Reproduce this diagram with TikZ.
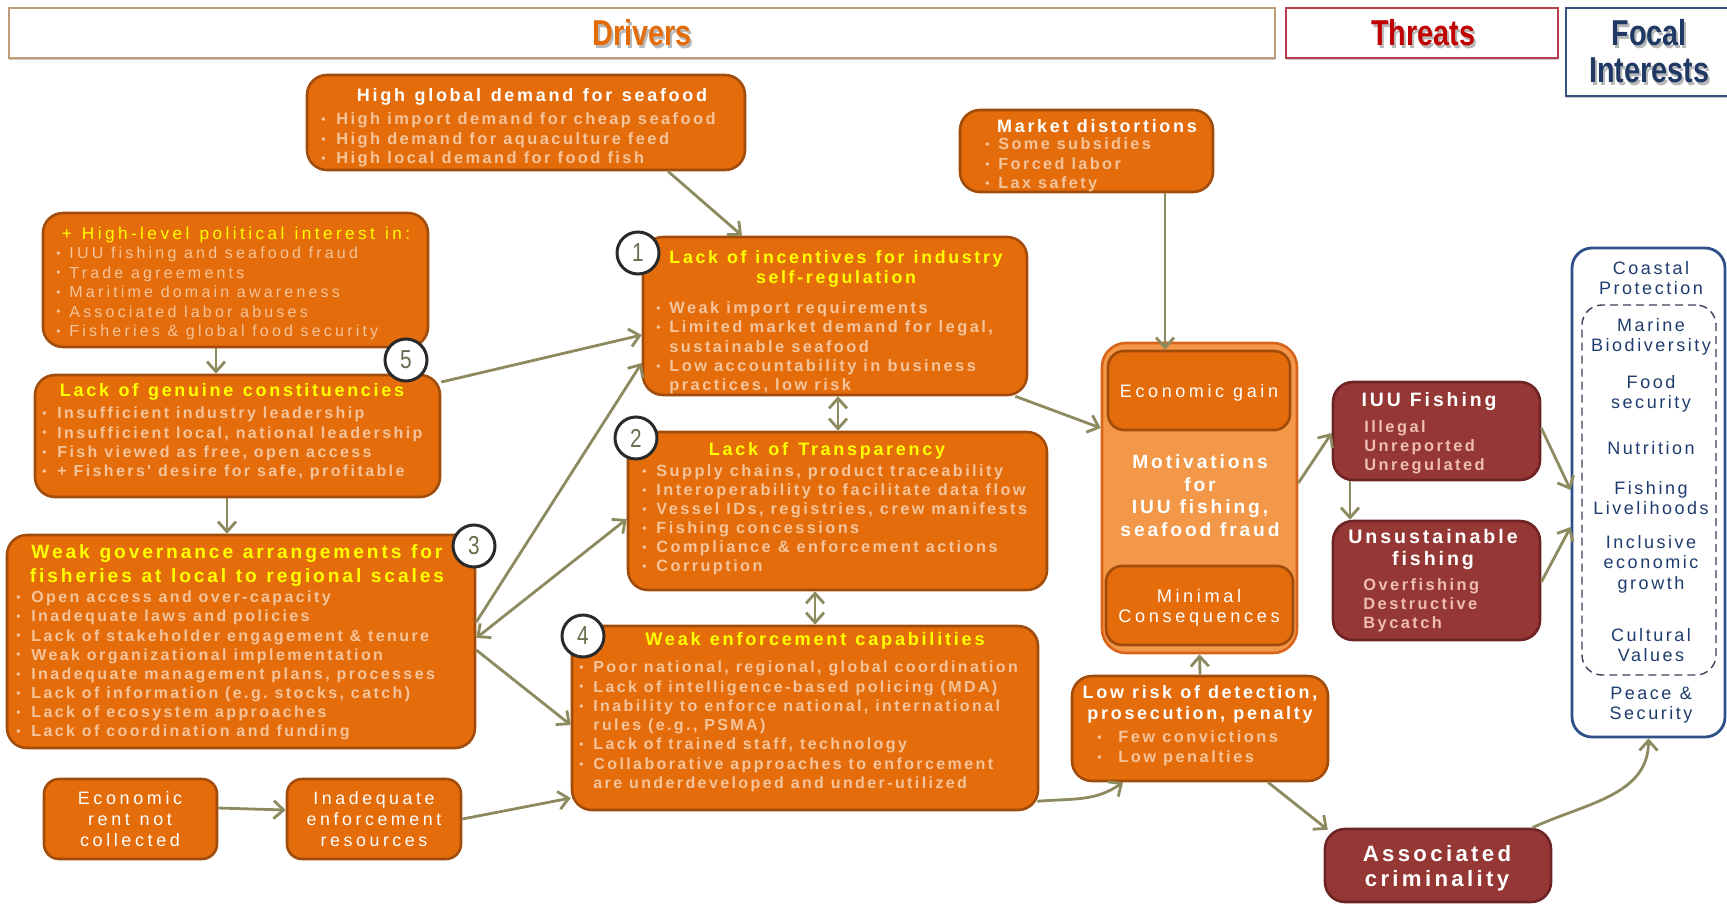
\documentclass[tikz,border=0pt]{standalone}
\usepackage{fontspec}
\usepackage{graphicx}
\setmainfont{Liberation Sans}
\usetikzlibrary{arrows.meta,shadows}
\newfontfamily\fR[LetterSpace=20]{Liberation Sans}
\newfontfamily\fB[LetterSpace=15]{Liberation Sans}
\newfontfamily\fF[LetterSpace=14]{Liberation Sans}
\newfontfamily\fH[FakeStretch=0.8]{Liberation Sans}
\newcommand\fsz[2]{\fontsize{#1}{#2}\selectfont}
\newcommand\wB{\spaceskip=0.43em plus 0.05em\xspaceskip=0.43em plus 0.05em\relax}
\newcommand\wR{\spaceskip=0.48em plus 0.05em\xspaceskip=0.48em plus 0.05em\relax}
\newcommand\wF{\spaceskip=0.42em plus 0.05em\xspaceskip=0.42em plus 0.05em\relax}
\newcommand\bul[1][7pt]{\makebox[#1][l]{\raisebox{0.6pt}{\fontsize{6}{6}\selectfont\textbullet}}}
\newcommand\nob[1][7pt]{\makebox[#1][l]{}}
\newcommand\shd[1]{\makebox[0pt][l]{\hspace{1.1pt}\raisebox{-1.1pt}{\textcolor{black!28}{#1}}}#1}
\definecolor{ofill}{HTML}{E46C0A}
\definecolor{obd}{HTML}{A24C0C}
\definecolor{yel}{HTML}{FFFF00}
\definecolor{peach}{HTML}{F4C49C}
\definecolor{rfill}{HTML}{953735}
\definecolor{rbd}{HTML}{6E2424}
\definecolor{pink}{HTML}{EFBDB3}
\definecolor{mfill}{HTML}{F29848}
\definecolor{mbd}{HTML}{D8641A}
\definecolor{arrc}{HTML}{8C8A5E}
\definecolor{fob}{HTML}{2E5089}
\definecolor{fodash}{HTML}{3A3F5C}
\definecolor{fotx}{HTML}{1F3C6E}
\definecolor{numtx}{HTML}{6B6B4E}
\definecolor{circbd}{HTML}{2A2A2A}
\definecolor{drv}{HTML}{E46C0A}
\definecolor{thr}{HTML}{C00000}
\definecolor{foc}{HTML}{1F3864}
\definecolor{drvbd}{HTML}{C39A78}
\definecolor{thrbd}{HTML}{B7404F}
\definecolor{focbd}{HTML}{33507F}
\newcommand\mkbox[6]{%
  \pgfmathsetmacro\mkW{(#5-#3)/2}\pgfmathsetmacro\mkH{(#6-#4)/2}%
  \pgfmathsetmacro\mkX{(#3+#5)/2}\pgfmathsetmacro\mkY{(#4+#6)/2}%
  \node[#1,minimum width=\mkW pt,minimum height=\mkH pt] (#2) at (\mkX,\mkY) {};}
\begin{document}
\begin{tikzpicture}[x=0.5pt,y=-0.5pt,
  obox/.style={draw=obd,fill=ofill,line width=1.3pt,rounded corners=10pt,inner sep=0pt},
  sbox/.style={obox,rounded corners=7.5pt},
  rbox/.style={draw=rbd,fill=rfill,line width=1.3pt,rounded corners=10pt,inner sep=0pt},
  mbox/.style={draw=mbd,fill=mfill,line width=1.3pt,rounded corners=12pt,inner sep=0pt},
  ibox/.style={draw=obd,fill=ofill,line width=1.3pt,rounded corners=8pt,inner sep=0pt},
  hdrbox/.style={draw=#1,line width=0.8pt,fill=white,inner sep=0pt,drop shadow={shadow xshift=0pt,shadow yshift=-1pt,fill=black!22,opacity=1}},
  focbox/.style={draw=fob,line width=1.4pt,fill=white,rounded corners=10pt,inner sep=0pt},
  dashbox/.style={draw=fodash,line width=0.7pt,dash pattern=on 4pt off 2.5pt,rounded corners=10pt,inner sep=0pt},
  txl/.style={inner sep=0pt,text width=#1,align=left,anchor=base west},
  txc/.style={inner sep=0pt,text width=#1,align=center,anchor=base},
  numcirc/.style={circle,draw=circbd,line width=1.5pt,fill=white,minimum size=21pt,inner sep=0pt,font=\fH\fsz{13}{13},text=numtx},
  arr/.style={draw=arrc,line width=1.4pt,-{Straight Barb[length=5pt,width=9pt]}},
  arrb/.style={draw=arrc,line width=1.4pt,{Straight Barb[length=5pt,width=9pt]}-{Straight Barb[length=5pt,width=9pt]}}
]
\useasboundingbox (0,0) rectangle (1727,904);
% headers
\mkbox{hdrbox=drvbd}{hd}{9}{8}{1275}{58}
\mkbox{hdrbox=thrbd}{ht}{1286}{8}{1558}{58}
\mkbox{hdrbox=focbd}{hf}{1566}{8}{1745}{96}
\node[anchor=base,inner sep=0pt,font=\fH\bfseries\fsz{18}{18.5},text=drv] (hd-t) at (642,46) {\shd{Drivers}};
\node[anchor=base,inner sep=0pt,font=\fH\bfseries\fsz{18}{18.5},text=thr] (ht-t) at (1423,46) {\shd{Threats}};
\node[txc=90pt,font=\fH\bfseries\fsz{18}{18.5},text=foc] (hf-t) at (1649,46) {\shd{Focal}\\\shd{Interests}};
% boxes
\mkbox{obox}{gd}{307}{75}{745}{170}
\mkbox{obox}{hl}{43}{213}{428}{347}
\mkbox{obox}{lg}{35}{375}{440}{497}
\mkbox{obox}{wg}{7}{535}{475}{748}
\mkbox{sbox}{ec}{44}{779}{217}{859}
\mkbox{sbox}{ie}{287}{779}{461}{859}
\mkbox{obox}{b1}{643}{237}{1027}{395}
\mkbox{obox}{b2}{628}{432}{1047}{590}
\mkbox{obox}{b4}{572}{626}{1038}{810}
\mkbox{obox}{md}{960}{110}{1213}{192}
\mkbox{mbox}{mot}{1102}{343}{1297}{653}
\mkbox{ibox}{eg}{1108}{351}{1290}{430}
\mkbox{ibox}{mc}{1106}{566}{1293}{645}
\mkbox{obox}{lr}{1072}{676}{1328}{781}
\mkbox{rbox}{ac}{1325}{829}{1551}{902}
\mkbox{rbox}{iuu}{1333}{382}{1540}{480}
\mkbox{rbox}{us}{1333}{521}{1540}{640}
\mkbox{focbox}{fo}{1572}{248}{1725}{737}
\mkbox{dashbox}{fo2}{1582}{305}{1716}{675}
% texts: high global demand
\node[txc=250pt,font=\fB\bfseries\fsz{9}{10},text=white] (gd-t) at (532,101.3) {\wB High global demand for seafood};
\node[txl=215pt,font=\fB\bfseries\fsz{8.2}{9.75},text=peach] (gd-b) at (321,124.7) {\wB\bul[7.5pt]High import demand for cheap seafood\\ \bul[7.5pt]High demand for aquaculture feed\\ \bul[7.5pt]High local demand for food fish};
% political interest
\node[txc=250pt,font=\fR\fsz{8.6}{10},text=yel] (hl-t) at (236,239.5) {\wR + High-level political interest in:};
\node[txl=200pt,font=\fR\fsz{8}{9.75},text=peach] (hl-b) at (56,258.5) {\wR\bul[6.5pt]IUU fishing and seafood fraud\\ \bul[6.5pt]Trade agreements\\ \bul[6.5pt]Maritime domain awareness\\ \bul[6.5pt]Associated labor abuses\\ \bul[6.5pt]Fisheries \& global food security};
% constituencies
\node[txc=250pt,font=\fB\bfseries\fsz{9}{10},text=yel] (lg-t) at (232,396.3) {\wB Lack of genuine constituencies};
\node[txl=205pt,font=\fB\bfseries\fsz{8}{9.65},text=peach] (lg-b) at (42,418.7) {\wB\bul[7.5pt]Insufficient industry leadership\\ \bul[7.5pt]Insufficient local, national leadership\\ \bul[7.5pt]Fish viewed as free, open access\\ \bul[7.5pt]+ Fishers' desire for safe, profitable};
% governance
\node[txc=260pt,font=\fB\bfseries\fsz{9.6}{12},text=yel] (wg-t) at (237,558.9) {\wB Weak governance arrangements for\\fisheries at local to regional scales};
\node[txl=225pt,font=\fB\bfseries\fsz{8}{9.55},text=peach] (wg-b) at (16,602.8) {\wB\bul[7.5pt]Open access and over-capacity\\ \bul[7.5pt]Inadequate laws and policies\\ \bul[7.5pt]Lack of stakeholder engagement \& tenure\\ \bul[7.5pt]Weak organizational implementation\\ \bul[7.5pt]Inadequate management plans, processes\\ \bul[7.5pt]Lack of information (e.g. stocks, catch)\\ \bul[7.5pt]Lack of ecosystem approaches\\ \bul[7.5pt]Lack of coordination and funding};
% small boxes
\node[txc=90pt,font=\fR\fsz{9}{10.5},text=white] (ec-t) at (130,804.4) {\wR Economic\\rent not\\collected};
\node[txc=90pt,font=\fR\fsz{8.9}{10.5},text=white] (ie-t) at (374,804.4) {\wR Inadequate\\enforcement\\resources};
% box 1
\node[txc=220pt,font=\fB\bfseries\fsz{8.9}{10},text=yel] (b1-t) at (836,263.3) {\wB Lack of incentives for industry\\self-regulation};
\node[txl=200pt,font=\fB\bfseries\fsz{8.2}{9.6},text=peach] (b1-b) at (656,313.7) {\wB\bul[6.5pt]Weak import requirements\\ \bul[6.5pt]Limited market demand for legal,\\ \nob[6.5pt]sustainable seafood\\ \bul[6.5pt]Low accountability in business\\ \nob[6.5pt]practices, low risk};
% box 2
\node[txc=220pt,font=\fB\bfseries\fsz{9}{10},text=yel] (b2-t) at (827,455.3) {\wB Lack of Transparency};
\node[txl=205pt,font=\fB\bfseries\fsz{8.15}{9.5},text=peach] (b2-b) at (642,476.7) {\wB\bul Supply chains, product traceability\\ \bul Interoperability to facilitate data flow\\ \bul Vessel IDs, registries, crew manifests\\ \bul Fishing concessions\\ \bul Compliance \& enforcement actions\\ \bul Corruption};
% box 4
\node[txc=220pt,font=\fB\bfseries\fsz{9.1}{10},text=yel] (b4-t) at (815,645.3) {\wB Weak enforcement capabilities};
\node[txl=225pt,font=\fB\bfseries\fsz{8}{9.65},text=peach] (b4-b) at (579,672.7) {\wB\bul Poor national, regional, global coordination\\ \bul Lack of intelligence-based policing (MDA)\\ \bul Inability to enforce national, international\\ \nob rules (e.g., PSMA)\\ \bul Lack of trained staff, technology\\ \bul Collaborative approaches to enforcement\\ \nob are underdeveloped and under-utilized};
% market distortions
\node[txc=120pt,font=\fB\bfseries\fsz{9}{10},text=white] (md-t) at (1097,132.3) {\wB Market distortions};
\node[txl=110pt,font=\fB\bfseries\fsz{8.1}{9.75},text=peach] (md-b) at (985,149.7) {\wB\bul[6.5pt]Some subsidies\\ \bul[6.5pt]Forced labor\\ \bul[6.5pt]Lax safety};
% motivations
\node[txc=95pt,font=\fR\fsz{9}{10},text=white] (eg-t) at (1199,397.4) {\wR Economic gain};
\node[txc=95pt,font=\fB\bfseries\fsz{9.6}{11.3},text=white] (mot-t) at (1200,468.6) {\wB Motivations\\for\\IUU fishing,\\seafood fraud};
\node[txc=95pt,font=\fR\fsz{9.1}{10},text=white] (mc-t) at (1199,602.4) {\wR Minimal\\Consequences};
% low risk
\node[txc=130pt,font=\fB\bfseries\fsz{9}{10.5},text=white] (lr-t) at (1200,698.3) {\wB Low risk of detection,\\prosecution, penalty};
\node[txl=100pt,font=\fB\bfseries\fsz{8.2}{10},text=peach] (lr-b) at (1097,742.7) {\wB\bul[10.5pt]Few convictions\\ \bul[10.5pt]Low penalties};
% threats
\node[txc=110pt,font=\fB\bfseries\fsz{11.1}{12.5},text=white] (ac-t) at (1437,861) {\wB Associated\\criminality};
\node[txc=100pt,font=\fB\bfseries\fsz{9.7}{11},text=white] (iuu-t) at (1429,406.9) {\wB IUU Fishing};
\node[txl=90pt,font=\fB\bfseries\fsz{8.2}{9.5},text=pink] (iuu-b) at (1364,432.7) {\wB Illegal\\Unreported\\Unregulated};
\node[txc=100pt,font=\fB\bfseries\fsz{9.8}{11},text=white] (us-t) at (1433,543) {\wB Unsustainable\\fishing};
\node[txl=90pt,font=\fB\bfseries\fsz{8.2}{9.5},text=pink] (us-b) at (1363,590.7) {\wB Overfishing\\Destructive\\Bycatch};
% focal interests
\begin{scope}[every node/.style={txc=75pt,font=\fF\fsz{9}{10},text=fotx}]
\node (f1) at (1651,274.4) {Coastal\\Protection};
\node (f2) at (1651,331.4) {Marine\\Biodiversity};
\node (f3) at (1651,388.4) {Food\\security};
\node (f4) at (1651,454.4) {Nutrition};
\node (f5) at (1651,494.4) {Fishing\\Livelihoods};
\node[font=\fF\fsz{9}{10.25}] (f6) at (1651,548.4) {Inclusive\\economic\\growth};
\node (f7) at (1651,641.4) {Cultural\\Values};
\node (f8) at (1651,699.4) {\wF Peace \&\\Security};
\end{scope}
% number circles
\node[numcirc] (c1) at (638,253) {1};
\node[numcirc] (c2) at (636,438) {2};
\node[numcirc] (c3) at (474,546) {3};
\node[numcirc] (c4) at (583,636) {4};
\node[numcirc] (c5) at (406,360) {5};
% connectors
\draw[arr] ([xshift=71pt]gd.south) -- ([xshift=-46.5pt]b1.north);
\draw[arr] ([xshift=39.25pt]md.south) -- ([xshift=-17.25pt,yshift=-4pt]mot.north);
\draw[arr] ([xshift=-9.75pt]hl.south) -- ([xshift=-10.75pt]lg.north);
\draw[arr] ([xshift=-5.25pt]lg.south) -- ([xshift=-7pt]wg.north);
\draw[arr] ([yshift=27pt]lg.east) -- ([yshift=-9.5pt]b1.west);
\draw[arr] ([yshift=9.75pt]wg.east) -- ([yshift=-23.5pt]b1.west);
\draw[arrb] ([yshift=1.75pt]wg.east) -- ([yshift=-4pt]b2.west);
\draw[arr] ([yshift=-4.25pt]wg.east) -- ([yshift=-3.5pt]b4.west);
\draw[arrb] ([xshift=1.5pt]b1.south) -- ([xshift=0.25pt]b2.north);
\draw[arrb] ([xshift=-11.25pt]b2.south) -- ([xshift=5pt]b4.north);
\draw[arr] (b1.-24) -- ([yshift=35pt]mot.west);
\draw[arr] ([yshift=5.5pt]ec.east) -- ([yshift=4.5pt]ie.west);
\draw[arr] (ie.east) -- ([yshift=-40pt]b4.west);
\draw[arr] ([xshift=-1pt,yshift=5pt]b4.south east) to[out=5,in=215] ([xshift=-38.5pt]lr.south);
\draw[arr] (lr.north) -- (mot.south);
\draw[arr] ([xshift=34pt]lr.south) -- ([xshift=2pt,yshift=-1pt]ac.north west);
\draw[arr] ([yshift=7.5pt]mot.east) -- ([yshift=-1pt]iuu.west);
\draw[arr] ([xshift=-43.25pt]iuu.south) -- ([xshift=-43.25pt]us.north);
\draw[arr] ([yshift=1.5pt]iuu.east) -- ([yshift=1.25pt]fo.west);
\draw[arr] ([yshift=-0.75pt]us.east) -- ([yshift=-17.25pt]fo.west);
\draw[arr] ([xshift=-10pt]ac.north east) to[out=25,in=-90] (fo.south);
\end{tikzpicture}
\end{document}
